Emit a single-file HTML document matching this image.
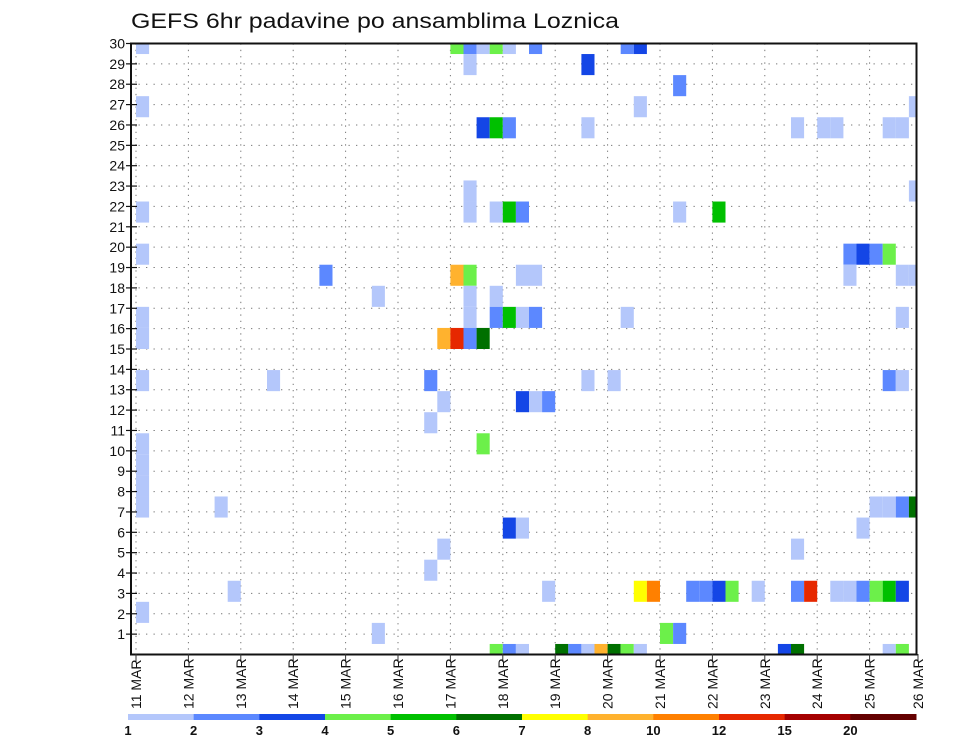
<!DOCTYPE html>
<html><head><meta charset="utf-8"><style>
html,body{margin:0;padding:0;background:#fff;}
svg{display:block;font-family:"Liberation Sans",sans-serif;}
</style></head><body>
<svg id="chart" width="960" height="742" viewBox="0 0 960 742" xmlns="http://www.w3.org/2000/svg">
<defs><clipPath id="plotclip"><rect x="131" y="43.5" width="785.5" height="611"/></clipPath></defs>
<text x="131" y="28" font-size="21" textLength="488" lengthAdjust="spacingAndGlyphs" fill="#111">GEFS 6hr padavine po ansamblima Loznica</text>
<g id="grid"></g>
<g id="cells" clip-path="url(#plotclip)"></g>
<rect x="131" y="43.5" width="785.5" height="611" fill="none" stroke="#111" stroke-width="2"/>
<g id="yaxis"></g>
<g id="xaxis"></g>
<g id="cbar"></g>
</svg>
<script>
const dayLabels = ["11 MAR","12 MAR","13 MAR","14 MAR","15 MAR","16 MAR","17 MAR","18 MAR","19 MAR","20 MAR","21 MAR","22 MAR","23 MAR","24 MAR","25 MAR","26 MAR"];
const yTicks = [1,2,3,4,5,6,7,8,9,10,11,12,13,14,15,16,17,18,19,20,21,22,23,24,25,26,27,28,29,30];
const levels = [1,2,3,4,5,6,7,8,10,12,15,20];
const levelColors = ["#b4c7fb","#5c88ff","#1446e6","#6cf04a","#00c000","#007000","#ffff00","#ffb22e","#ff8000","#e62800","#a50000","#640000"];
// cells: step index (6h steps from 11 MAR 00z), member row, precip value
const cellStep = [0,24,25,26,27,28,30,37,38, 25,34, 41, 0,38,59, 26,27,28,34,50,52,53,57,58, 25,59, 0,25,27,28,29,41,44, 0,54,55,56,57, 14,24,25,29,30,54,58,59, 18,25,27, 0,25,27,28,29,30,37,58, 0,23,24,25,26, 0,10,22,34,36,57,58, 23,29,30,31, 22, 0,26, 0, 0, 0,6,56,57,58,59, 28,29,55, 23,50, 22, 7,31,38,39,42,43,44,45,47,50,51,53,54,55,56,57,58, 0, 18,40,41, 27,28,29,32,33,34,35,36,37,38,49,50,57,58];
const cellMember = [29,29,29,29,29,29,29,29,29, 28,28, 27, 26,26,26, 25,25,25,25,25,25,25,25,25, 22,22, 21,21,21,21,21,21,21, 19,19,19,19,19, 18,18,18,18,18,18,18,18, 17,17,17, 16,16,16,16,16,16,16,16, 15,15,15,15,15, 13,13,13,13,13,13,13, 12,12,12,12, 11, 10,10, 9, 8, 7,7,7,7,7,7, 6,6,6, 5,5, 4, 3,3,3,3,3,3,3,3,3,3,3,3,3,3,3,3,3, 2, 1,1,1, 0,0,0,0,0,0,0,0,0,0,0,0,0,0];
const cellValue = [1,4,2,1,4,1,2,2,3, 1,3, 2, 1,1,1, 3,5,2,1,1,1,1,1,1, 1,1, 1,1,1,5,2,1,5, 1,2,3,2,4, 2,8,4,1,1,1,1,1, 1,1,1, 1,1,2,5,1,2,1,1, 1,8,12,2,6, 1,1,2,1,1,2,1, 1,3,1,2, 1, 1,4, 1, 1, 1,1,1,1,2,6, 3,1,1, 1,1, 1, 1,1,7,10,2,2,3,4,1,2,12,1,1,2,4,5,3, 1, 1,4,2, 4,2,1,6,2,1,8,6,4,1,3,6,1,4];

const NS="http://www.w3.org/2000/svg";
const X0=136, DAYW=52.4, STEPW=DAYW/4;
const xDay = d => X0 + d*DAYW;
const xStep = k => X0 + k*STEPW;
const yMember = m => 654.5 - m*611/29;
const yLabel = v => 654.5 - v*611/30;
function colorFor(v){let c=levelColors[0];for(let i=0;i<levels.length;i++){if(v>=levels[i])c=levelColors[i];}return c;}
function mk(tag,attrs,parent){const e=document.createElementNS(NS,tag);for(const a in attrs)e.setAttribute(a,attrs[a]);parent.appendChild(e);return e;}

const grid=document.getElementById('grid');
yTicks.forEach(v=>{ if(v<30){
  const l=mk('line',{x1:131,x2:916.5,y1:yLabel(v),y2:yLabel(v),stroke:'#777','stroke-width':1,'stroke-dasharray':'1.3,6.2'},grid);
  
  
}});
dayLabels.forEach((d,i)=>{ const x=xDay(i); if(x<916){
  const l=mk('line',{x1:x,x2:x,y1:43.5,y2:654.5,stroke:'#777','stroke-width':1,'stroke-dasharray':'1.3,5'},grid);
  
  
}});

const cells=document.getElementById('cells');
for(let i=0;i<cellStep.length;i++){
  const k=cellStep[i], m=cellMember[i];
  const r=mk('rect',{x:xStep(k),y:yMember(m+0.5),width:STEPW,height:yMember(m-0.5)-yMember(m+0.5),fill:colorFor(cellValue[i])},cells);
  
  
}

const ya=document.getElementById('yaxis');
yTicks.forEach(v=>{
  const y=yLabel(v);
  const t=mk('line',{x1:126,x2:137,y1:y,y2:y,stroke:'#111','stroke-width':1.2},ya);
  
  
  const tx=mk('text',{x:125,y:y+5,'font-size':14,'text-anchor':'end',fill:'#111'},ya);
  tx.textContent=v;
  
  
});

const xa=document.getElementById('xaxis');
dayLabels.forEach((d,i)=>{
  let x=Math.min(xDay(i),918);
  const t=mk('line',{x1:x,x2:x,y1:654,y2:662,stroke:'#333','stroke-width':1},xa);
  
  
  const tx=mk('text',{x:0,y:0,'font-size':14,'text-anchor':'start',fill:'#111',transform:`translate(${x+5},${709}) rotate(-90)`},xa);
  tx.textContent=d;
  
  
});

const cb=document.getElementById('cbar');
const CB0=128, CBW=(916-128)/levels.length;
levels.forEach((lv,i)=>{
  const r=mk('rect',{x:CB0+i*CBW,y:714,width:CBW+0.5,height:6,fill:levelColors[i]},cb);
  
  
  const tx=mk('text',{x:CB0+i*CBW,y:735,'font-size':13,'font-weight':'bold','text-anchor':'middle',fill:'#111'},cb);
  tx.textContent=lv;
  
  
});
</script>
</body></html>
